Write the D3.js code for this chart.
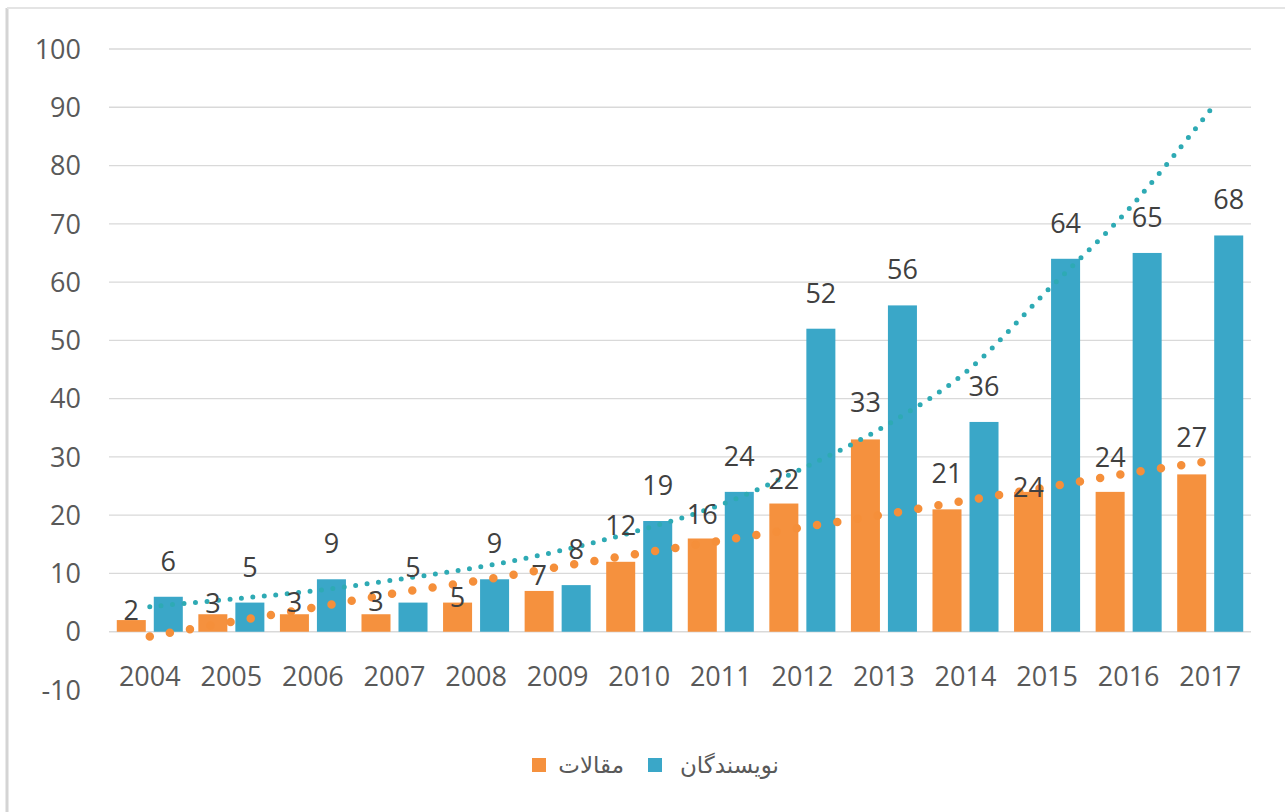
<!DOCTYPE html>
<html>
<head>
<meta charset="utf-8">
<script src="https://cdn.jsdelivr.net/npm/d3@7"></script>
<style>
  body { margin: 0; background: #fff; }
  #chart { width: 1285px; height: 812px; }
  .tick-label { font-family: "Open Sans", sans-serif; font-size: 27px; fill: #595959; }
  .val-label { font-family: "Open Sans", sans-serif; font-size: 27px; fill: #404040; }
  .legend-label { font-family: "DejaVu Sans", sans-serif; font-size: 23px; fill: #595959; }
</style>
</head>
<body>
<div id="chart"></div>
<script>
// categories (years)
const years = ["2004", "2005", "2006", "2007", "2008", "2009", "2010",
  "2011", "2012", "2013", "2014", "2015", "2016", "2017"];

// series: مقالات (articles) and نویسندگان (authors)
const articles = [2, 3, 3, 3, 5, 7, 12, 16, 22, 33, 21, 24, 24, 27];
const authors = [6, 5, 9, 5, 9, 8, 19, 24, 52, 56, 36, 64, 65, 68];

// trendline values at each year
const articlesTrend = [-0.8, 1.7, 4.1, 6.6, 8.7, 11.1, 13.4, 15.6, 17.9, 20.1, 22.5, 24.8, 27.2, 29.3];
const authorsTrend = [4.3, 5.6, 7.0, 8.9, 11.0, 13.8, 17.4, 21.8, 28.0, 35.2, 44.5, 58.5, 72.5, 89.5];

const yTicks = [-10, 0, 10, 20, 30, 40, 50, 60, 70, 80, 90, 100];
const seriesNames = ["مقالات", "نویسندگان"];
const colors = { bar0: "#F5913E", bar1: "#3AA7C8", trend0: "#F58F3A", trend1: "#2EAAB4" };

// labels of the orange series were moved by hand in the original, px above bar top
const labelLift0 = [0, 1, 2, 3, -4, 6, 27, 14, 15, 27, 26, -5, 25, 27];
const labelLift1 = 26;

const width = 1285, height = 812;
const svg = d3.select("#chart").append("svg")
  .attr("width", width)
  .attr("height", height);

// frame (screenshot border)
svg.append("line").attr("x1", 7).attr("x2", 7).attr("y1", 8).attr("y2", height)
  .attr("stroke", "#d4d4d4").attr("stroke-width", 3);
svg.append("line").attr("x1", 7).attr("x2", width).attr("y1", 8).attr("y2", 8)
  .attr("stroke", "#e4e4e4").attr("stroke-width", 2);

// scales
const x0 = d3.scaleBand().domain(years).range([109, 1251]).padding(0);
const x1 = d3.scaleBand().domain([0, 1]).range([0, x0.bandwidth()])
  .paddingInner(0.216).paddingOuter(0.21);
const y = d3.scaleLinear().domain([-10, 100]).range([690, 49]);

// gridlines
svg.append("g").selectAll("line")
  .data(yTicks.filter(d => d >= 0))
  .join("line")
  .attr("x1", 109).attr("x2", 1251)
  .attr("y1", d => y(d)).attr("y2", d => y(d))
  .attr("stroke", "#d9d9d9").attr("stroke-width", 1.3);

// y axis labels
svg.append("g").selectAll("text")
  .data(yTicks)
  .join("text")
  .attr("class", "tick-label")
  .attr("x", 81)
  .attr("y", d => y(d))
  .attr("dy", "0.36em")
  .attr("text-anchor", "end")
  .text(d => d);

// x axis labels
svg.append("g").selectAll("text")
  .data(years)
  .join("text")
  .attr("class", "tick-label")
  .attr("x", d => x0(d) + x0.bandwidth() / 2)
  .attr("y", 686)
  .attr("text-anchor", "middle")
  .text(d => d);

// bars
const groups = [articles, authors];
groups.forEach((vals, s) => {
  svg.append("g").selectAll("rect")
    .data(vals)
    .join("rect")
    .attr("x", (d, i) => x0(years[i]) + x1(s))
    .attr("width", x1.bandwidth())
    .attr("y", d => y(d))
    .attr("height", d => y(0) - y(d))
    .attr("fill", s === 0 ? colors.bar0 : colors.bar1);
});

// trendlines
const line = d3.line()
  .x((d, i) => x0(years[i]) + x0.bandwidth() / 2)
  .y(d => y(d))
  .curve(d3.curveCatmullRom);

svg.append("path")
  .datum(articlesTrend)
  .attr("d", line)
  .attr("fill", "none")
  .attr("stroke", colors.trend0)
  .attr("stroke-width", 8.5)
  .attr("stroke-linecap", "round")
  .attr("stroke-dasharray", "0 20.5");

svg.append("path")
  .datum(authorsTrend)
  .attr("d", line)
  .attr("fill", "none")
  .attr("stroke", colors.trend1)
  .attr("stroke-width", 5)
  .attr("stroke-linecap", "round")
  .attr("stroke-dasharray", "0 11.5");

// value labels
groups.forEach((vals, s) => {
  svg.append("g").selectAll("text")
    .data(vals)
    .join("text")
    .attr("class", "val-label")
    .attr("x", (d, i) => x0(years[i]) + x1(s) + x1.bandwidth() / 2)
    .attr("y", (d, i) => y(d) - (s === 0 ? labelLift0[i] : labelLift1))
    .attr("text-anchor", "middle")
    .text(d => d);
});

// legend
const legend = svg.append("g");
legend.append("rect").attr("x", 532).attr("y", 758).attr("width", 14).attr("height", 14)
  .attr("fill", colors.bar0);
legend.append("text").attr("class", "legend-label")
  .attr("x", 624).attr("y", 773).attr("text-anchor", "end")
  .text(seriesNames[0]);
legend.append("rect").attr("x", 648).attr("y", 758).attr("width", 14).attr("height", 14)
  .attr("fill", colors.bar1);
legend.append("text").attr("class", "legend-label")
  .attr("x", 779).attr("y", 773).attr("text-anchor", "end")
  .text(seriesNames[1]);
</script>
</body>
</html>
